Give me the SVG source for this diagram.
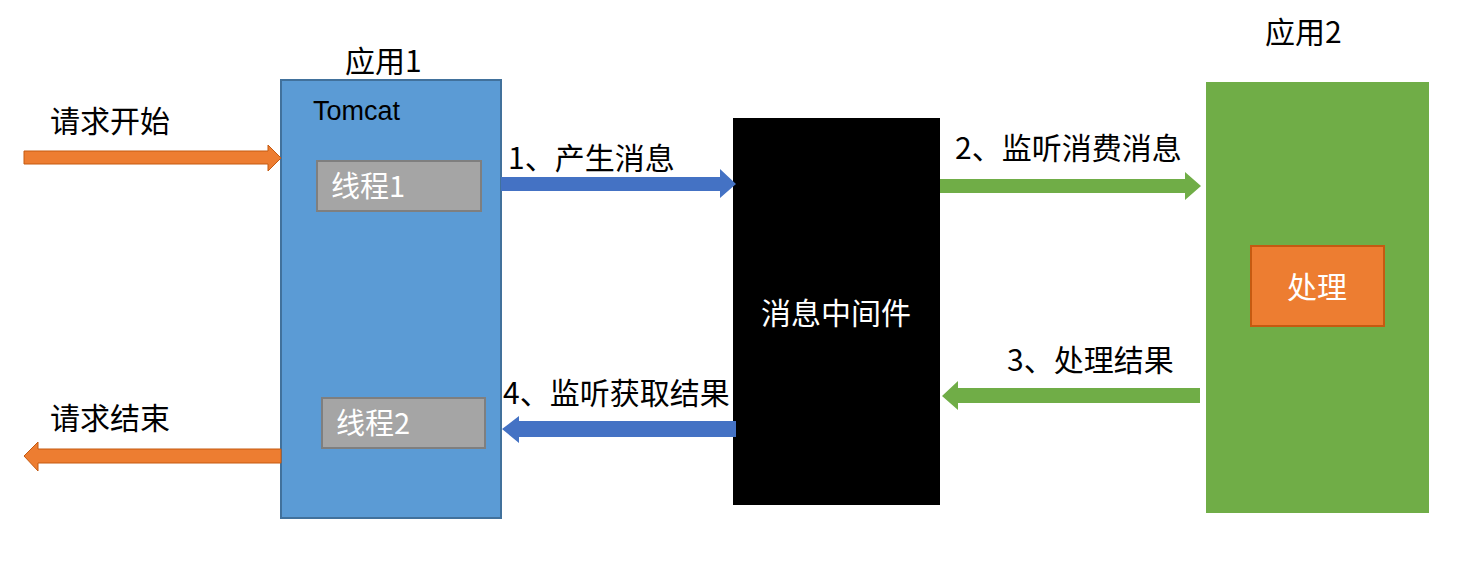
<svg xmlns="http://www.w3.org/2000/svg" width="1467" height="577" viewBox="0 0 1467 577">
<style>
.lbl{font-family:"Noto Sans CJK SC","Liberation Sans",sans-serif;font-size:30px;fill:#000}
.wt{font-family:"Noto Sans CJK SC","Liberation Sans",sans-serif;fill:#fff}
.thread{fill:#A5A5A5;stroke:#7F7F7F;stroke-width:2}
.orange{fill:#ED7D31;stroke:#C55A11;stroke-width:1}
.blue{fill:#4472C4}
.green{fill:#70AD47}
</style>
<rect width="1467" height="577" fill="#fff"/>
<g id="app1">
<rect x="281" y="80" width="220" height="438" fill="#5B9BD5" stroke="#41719C" stroke-width="2"/>
<text x="345" y="72" class="lbl" font-size="29">应用1</text>
<text x="313" y="120" font-family="Liberation Sans, sans-serif" font-size="27" fill="#000">Tomcat</text>
</g>
<g id="thread1">
<rect x="317" y="161" width="164" height="50" class="thread"/>
<text x="331" y="197" class="wt" font-size="29">线程1</text>
</g>
<g id="thread2">
<rect x="322" y="398" width="163" height="50" class="thread"/>
<text x="336" y="434" class="wt" font-size="29">线程2</text>
</g>
<g id="mq">
<rect x="733" y="118" width="207" height="387" fill="#000"/>
<text x="836" y="324" class="wt" font-size="30" text-anchor="middle">消息中间件</text>
</g>
<g id="app2">
<rect x="1206" y="82" width="223" height="431" fill="#70AD47"/>
<text x="1265" y="43" class="lbl" font-size="29">应用2</text>
</g>
<g id="process">
<rect x="1251" y="246" width="133" height="80" fill="#ED7D31" stroke="#C55A11" stroke-width="2"/>
<text x="1317" y="298" class="wt" font-size="30" text-anchor="middle">处理</text>
</g>
<g id="connectors">
<polygon class="orange" points="24,151 268,151 268,145 281,158 268,171 268,164 24,164"/>
<polygon class="orange" points="281,449 38,449 38,442 24,456 38,471 38,463 281,463"/>
<polygon class="blue" points="501,177 720,177 720,169 736,184 720,198 720,191 501,191"/>
<polygon class="blue" points="736,421 519,421 519,416 502,429 519,443 519,437 736,437"/>
<polygon class="green" points="940,179 1185,179 1185,172 1201,186 1185,200 1185,193 940,193"/>
<polygon class="green" points="1200,388 958,388 958,381 942,396 958,410 958,403 1200,403"/>
</g>
<g id="labels">
<text x="50" y="132" class="lbl">请求开始</text>
<text x="50" y="429" class="lbl">请求结束</text>
<text x="508" y="169" class="lbl">1、产生消息</text>
<text x="503" y="404" class="lbl">4、监听获取结果</text>
<text x="955" y="159" class="lbl">2、监听消费消息</text>
<text x="1007" y="371" class="lbl">3、处理结果</text>
</g>
</svg>
